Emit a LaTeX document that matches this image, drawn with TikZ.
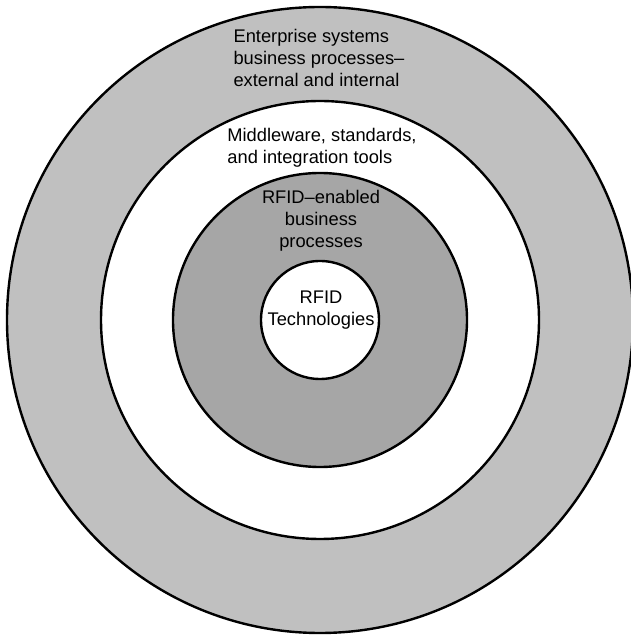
\documentclass[tikz,border=0pt]{standalone}
\usepackage{fontspec}
\setmainfont{Liberation Sans}
\usepackage{tikz}

\definecolor{ringlight}{RGB}{192,192,192}
\definecolor{ringdark}{RGB}{166,166,166}

\begin{document}
\begin{tikzpicture}[x=1pt, y=1pt,
        ring/.style={draw=black, line width=2.4pt},
        label/.style={inner sep=0pt, font=\fontsize{18.3}{22}\selectfont}]
        \useasboundingbox (0, 0) rectangle (630, 635);
        \coordinate (O) at (320, 315);

        \filldraw[ring, fill=ringlight] (O) circle (313);
        \filldraw[ring, fill=white] (O) circle (219);
        \filldraw[ring, fill=ringdark] (O) circle (147);
        \filldraw[ring, fill=white] (O) circle (59);

        \node[label, align=left] (enterprise) at (319, 577)
            {Enterprise systems\\business processes–\\external and internal};
        \node[label, align=left] (middleware) at (322, 487)
            {Middleware, standards,\\and integration tools};
        \node[label, align=center] (enabled) at (321, 414)
            {RFID–enabled\\business\\processes};
        \node[label, align=center] (tech) at (321, 325)
            {RFID\\Technologies};

    \end{tikzpicture}
\end{document}
